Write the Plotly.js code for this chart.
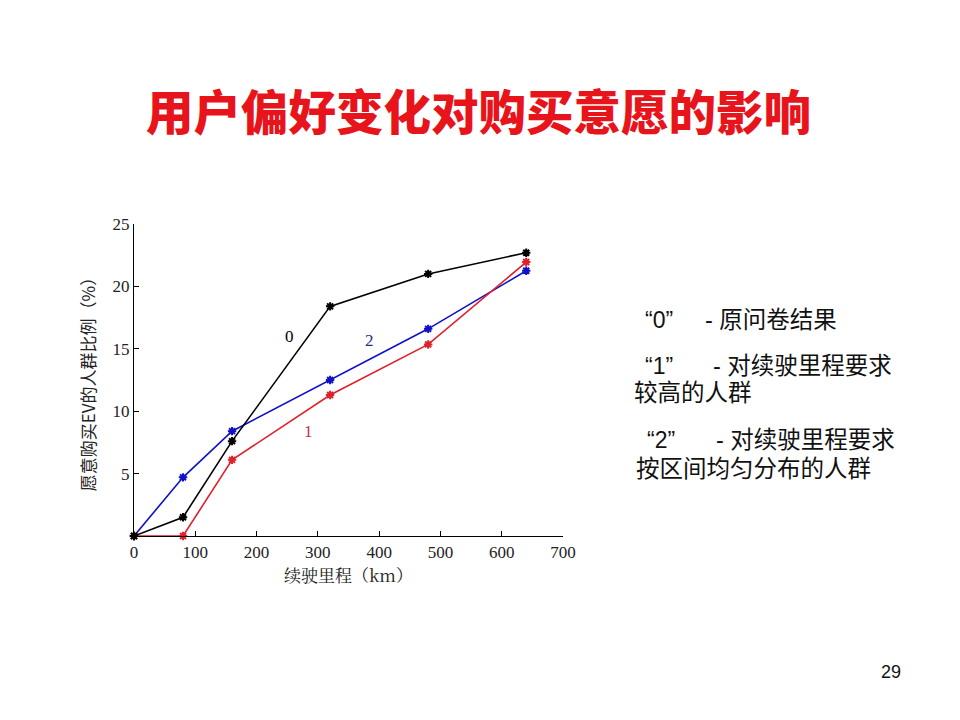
<!DOCTYPE html>
<html><head><meta charset="utf-8">
<script src="https://cdn.plot.ly/plotly-3.0.1.min.js"></script>
<style>body{margin:0;background:#fff;}#chart{width:960px;height:720px;}</style>
</head><body><div id="chart"></div>
<script>
const rangeKm = [0, 80, 160, 320, 480, 640];
const series0 = [0, 1.5, 7.6, 18.4, 21.0, 22.7];
const series1 = [0, 0, 6.1, 11.3, 15.35, 21.95];
const series2 = [0, 4.7, 8.4, 12.5, 16.6, 21.25];
const xTicks = [0, 100, 200, 300, 400, 500, 600, 700];
const yTicks = [5, 10, 15, 20, 25];
const curveLabels = [
  {text: '0', x: 254, y: 16.0, color: '#000000'},
  {text: '2', x: 384, y: 15.7, color: '#2a2a8a'},
  {text: '1', x: 284, y: 8.4, color: '#c0304a'}
];
const noteQuotes = [
  {text: '“0”', x: 643, y: 320},
  {text: '“1”', x: 643, y: 366},
  {text: '“2”', x: 645, y: 440}
];
const noteTexts = [
  {text: '- 原问卷结果', x: 703, y: 320},
  {text: '- 对续驶里程要求', x: 711, y: 366},
  {text: '较高的人群', x: 632, y: 393},
  {text: '- 对续驶里程要求', x: 714, y: 440},
  {text: '按区间均匀分布的人群', x: 634, y: 469}
];

function tr(y, color, name) {
  return {x: rangeKm, y: y, name: name, type: 'scatter', mode: 'lines+markers',
    line: {color: color, width: 1.6},
    marker: {symbol: 'asterisk-open', size: 7, color: color, line: {color: color, width: 2}},
    cliponaxis: false};
}
const data = [tr(series2, '#1010c8', '2'), tr(series1, '#e0202a', '1'), tr(series0, '#000000', '0')];

const L = 134, R = 563, T = 224, B = 536;
const px = x => (x - L) / (R - L);
const py = y => (B - y) / (B - T);

const ann = curveLabels.map(l => ({text: l.text, x: l.x, y: l.y, xref: 'x', yref: 'y', showarrow: false,
  font: {family: 'Liberation Serif', size: 17, color: l.color}}));
noteQuotes.forEach(n => ann.push({text: n.text, x: px(n.x), y: py(n.y), xref: 'paper', yref: 'paper', showarrow: false,
  xanchor: 'left', yanchor: 'middle', font: {family: 'Liberation Sans', size: 23, color: '#111'}}));
noteTexts.forEach(n => ann.push({text: n.text, x: px(n.x), y: py(n.y), xref: 'paper', yref: 'paper', showarrow: false,
  xanchor: 'left', yanchor: 'middle', font: {family: 'Liberation Sans, Noto Sans CJK SC', size: 23.5, color: '#111'}}));
ann.push({text: '用户偏好变化对购买意愿的影响', xref: 'paper', yref: 'paper', x: px(478), y: py(110),
  xanchor: 'center', yanchor: 'middle',
  showarrow: false, font: {family: 'Noto Sans CJK SC', size: 47.5, color: '#e8141c', weight: 900}});
ann.push({text: '29', xref: 'paper', yref: 'paper', x: px(891), y: py(672), xanchor: 'center', yanchor: 'middle',
  showarrow: false, font: {family: 'Liberation Sans', size: 18, color: '#111'}});

const layout = {
  width: 960, height: 720, showlegend: false,
  paper_bgcolor: '#fff', plot_bgcolor: '#fff',
  margin: {l: L, r: 960 - R, t: T, b: 720 - B, pad: 0},
  xaxis: {range: [0, 700], tickvals: xTicks, ticks: 'inside', ticklen: 5, tickcolor: '#000',
    showgrid: false, zeroline: false, showline: true, linecolor: '#000', linewidth: 1.2,
    tickfont: {family: 'Liberation Serif', size: 17, color: '#222'},
    title: {text: '续驶里程（km）', standoff: 8, font: {family: 'Noto Serif CJK SC, Noto Sans CJK SC', size: 17, color: '#222'}}},
  yaxis: {range: [0, 25], tickvals: yTicks, ticks: 'inside', ticklen: 5, tickcolor: '#000',
    showgrid: false, zeroline: false, showline: true, linecolor: '#000', linewidth: 1.2,
    tickfont: {family: 'Liberation Serif', size: 17, color: '#222'},
    title: {text: '愿意购买EV的人群比例（%）', standoff: 12, font: {family: 'Noto Sans CJK SC', size: 17, color: '#222'}}},
  annotations: ann
};
Plotly.newPlot('chart', data, layout, {staticPlot: true});
</script></body></html>
